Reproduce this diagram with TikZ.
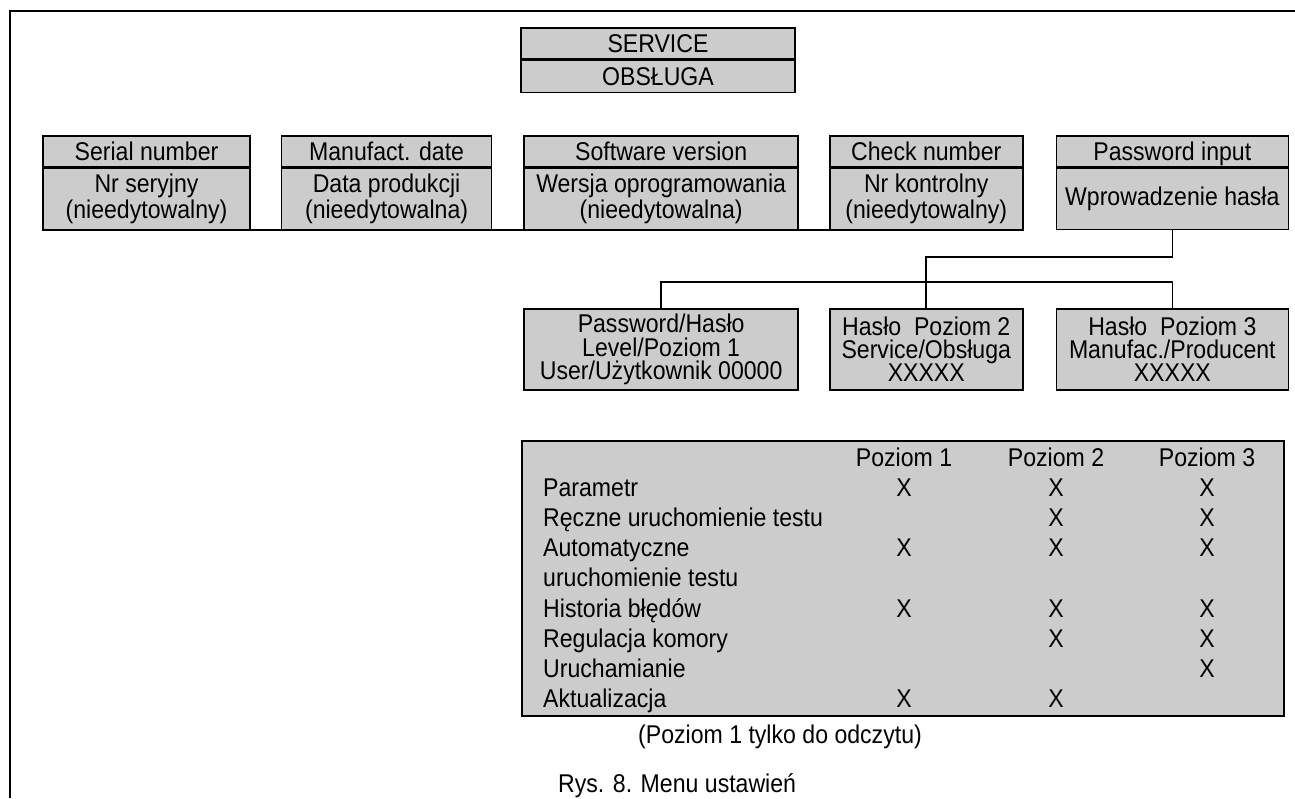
\documentclass[tikz,border=0pt]{standalone}
\usepackage{fontspec}
\setmainfont{Liberation Sans}[FakeStretch=0.9]
\usetikzlibrary{positioning}
\definecolor{boxfill}{HTML}{CCCCCC}
\definecolor{ink}{HTML}{000000}

\begin{document}
\begin{tikzpicture}[
  font=\fontsize{14.6}{13.6}\selectfont,
  box/.style={draw=ink, line width=0.9pt, fill=boxfill, inner sep=0pt, align=center},
  hdr/.style={box, minimum height=6.2mm, text height=10.5pt, text depth=0pt},
  cell/.style={box, minimum height=12.2mm},
  lvl/.style={box, minimum height=16.2mm, font=\fontsize{14.6}{13.2}\selectfont},
  wire/.style={draw=ink, line width=0.9pt},
  rowlab/.style={anchor=base west},
  colx/.style={anchor=base}
]
  \useasboundingbox (0,0) rectangle (25.9,-15.96);
  \draw[ink, line width=1.1pt] (0.2,-15.96) -- (0.2,-0.22) -- (25.9,-0.22);

  % top entry
  \node[hdr, minimum width=54.8mm, anchor=north] (svc) at (13.16,-0.54) {SERVICE};
  \node[hdr, minimum width=54.8mm, minimum height=6.4mm, below=0pt of svc] (svcb) {OBSŁUGA};

  % first menu row
  \node[hdr, minimum width=41.4mm, anchor=north] (sn) at (2.93,-2.70) {Serial number};
  \node[hdr, minimum width=42mm, right=6mm of sn] (md) {Manufact. date};
  \node[hdr, minimum width=54.8mm, right=6.2mm of md] (sw) {Software version};
  \node[hdr, minimum width=38.6mm, right=6mm of sw] (cn) {Check number};
  \node[hdr, minimum width=46.4mm, right=6.4mm of cn] (pw) {Password input};

  \node[cell, minimum width=41.4mm, below=0pt of sn] (snb) {Nr seryjny\\(nieedytowalny)};
  \node[cell, minimum width=42mm, below=0pt of md] (mdb) {Data produkcji\\(nieedytowalna)};
  \node[cell, minimum width=54.8mm, below=0pt of sw] (swb) {Wersja oprogramowania\\(nieedytowalna)};
  \node[cell, minimum width=38.6mm, below=0pt of cn] (cnb) {Nr kontrolny\\(nieedytowalny)};
  \node[cell, minimum width=46.4mm, below=0pt of pw] (pwb) {Wprowadzenie hasła};

  \draw[wire] (snb.south west) -- (cnb.south east);

  % password levels
  \node[lvl, minimum width=54.8mm, below=15.6mm of swb] (lv1) {Password/Hasło\\Level/Poziom 1\\User/Użytkownik 00000};
  \node[lvl, minimum width=38.6mm, below=15.6mm of cnb] (lv2) {Hasło~~Poziom 2\\Service/Obsługa\\XXXXX};
  \node[lvl, minimum width=46.4mm, below=15.6mm of pwb] (lv3) {Hasło~~Poziom 3\\Manufac./Producent\\XXXXX};

  \draw[wire] (pwb.south) -- ++(0,-0.54) -| (lv2.north);
  \draw[wire] (lv1.north) -- ++(0,0.52) -| (lv3.north);

  % access table
  \node[box, minimum width=152.4mm, minimum height=55mm, anchor=north west] (tab) at (10.42,-8.80) {};
  \node[colx] (h1) at (18.08,-9.32) {Poziom 1};
  \node[colx] (h2) at (21.12,-9.32) {Poziom 2};
  \node[colx] (h3) at (24.14,-9.32) {Poziom 3};

  \foreach \txt [count=\i] in {Parametr, Ręczne uruchomienie testu, Automatyczne,
      uruchomienie testu, Historia błędów, Regulacja komory, Uruchamianie, Aktualizacja}
    \node[rowlab] (r\i) at (10.74,{-9.32-0.604*\i}) {\txt};
  \foreach \i in {1,3,5,8}
    \node[colx] (xa\i) at (18.08,{-9.32-0.604*\i}) {X};
  \foreach \i in {1,2,3,5,6,8}
    \node[colx] (xb\i) at (21.12,{-9.32-0.604*\i}) {X};
  \foreach \i in {1,2,3,5,6,7}
    \node[colx] (xc\i) at (24.14,{-9.32-0.604*\i}) {X};

  \node[anchor=base] (note) at (15.6,-14.86) {(Poziom 1 tylko do odczytu)};
  \node[anchor=base west] (cap) at (11.04,-15.84) {Rys. 8. Menu ustawień};
\end{tikzpicture}
\end{document}
